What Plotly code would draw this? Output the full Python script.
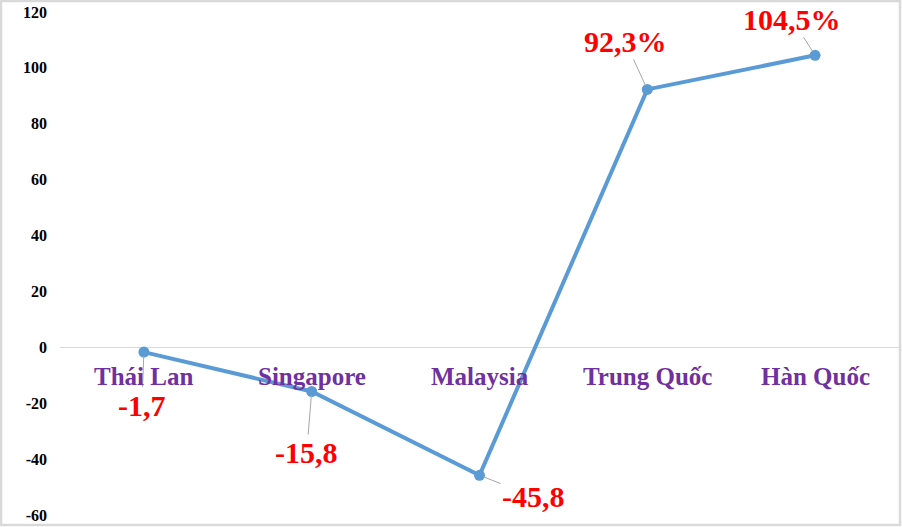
import plotly.graph_objects as go

# Tăng trưởng theo thị trường (%)
countries = ["Thái Lan", "Singapore", "Malaysia", "Trung Quốc", "Hàn Quốc"]
growth = [-1.7, -15.8, -45.8, 92.3, 104.5]
point_labels = ["-1,7", "-15,8", "-45,8", "92,3%", "104,5%"]
y_ticks = [-60, -40, -20, 0, 20, 40, 60, 80, 100, 120]
y_tick_text = [str(t) for t in y_ticks]  # plain hyphen like the original

# label offsets (px from point to text centre)
label_offsets = [(-2, 53), (-5, 61), (54, 21), (-22, -48), (-23, -36)]

serif = "Liberation Serif, Times New Roman, serif"

fig = go.Figure()
fig.add_trace(go.Scatter(
    x=countries, y=growth, mode="lines+markers",
    line=dict(color="#5B9BD5", width=4),
    marker=dict(color="#5B9BD5", size=11),
    hoverinfo="skip", showlegend=False,
))

# data labels with thin leader lines
for c, v, txt, (dx, dy) in zip(countries, growth, point_labels, label_offsets):
    fig.add_annotation(
        x=c, y=v, text=txt, ax=dx, ay=dy, axref="pixel", ayref="pixel",
        showarrow=True, arrowhead=0, arrowwidth=1, arrowcolor="#A6A6A6",
        standoff=4, startstandoff=0,
        font=dict(family=serif, size=30, color="#FF0000", weight="bold"),
    )

# category names sit right under the zero line
for c in countries:
    fig.add_annotation(
        x=c, y=0, text=c, showarrow=False, yanchor="middle", yshift=-29,
        font=dict(family=serif, size=25, color="#7030A0", weight="bold"),
    )

# outer frame
fig.add_shape(type="rect", xref="paper", yref="paper",
              x0=-0.0703, x1=1.0012, y0=-0.0199, y1=1.0219,
              line=dict(color="#D9D9D9", width=2.5), layer="below")

fig.update_xaxes(range=[-0.5, 4.5], showticklabels=False, showgrid=False,
                 zeroline=False, showline=False, ticks="")
fig.update_yaxes(range=[-60, 120], tickvals=y_ticks, ticktext=y_tick_text,
                 showgrid=False, zeroline=True, zerolinecolor="#D9D9D9",
                 zerolinewidth=1, showline=False, ticks="", ticklabelstandoff=12,
                 tickfont=dict(family=serif, size=16, color="#000000", weight="bold"))

fig.update_layout(
    width=902, height=527,
    margin=dict(l=60, r=3, t=12, b=12),
    plot_bgcolor="white", paper_bgcolor="white",
)

# drop the page's default body margin so the chart fills the window
fig.write_html("out.html", config={"displayModeBar": False},
               post_script="document.body.style.margin='0px';")
